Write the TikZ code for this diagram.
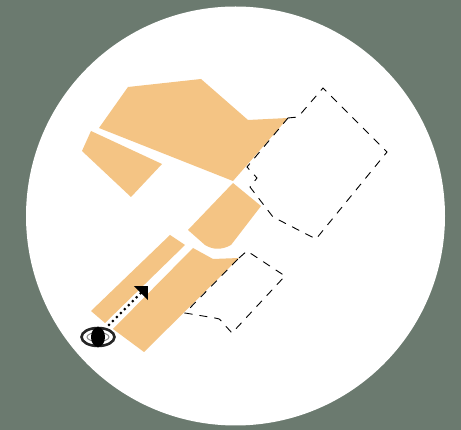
\documentclass[tikz,border=0pt]{standalone}
\usepackage{tikz}
\usetikzlibrary{arrows.meta,shapes.geometric}
\definecolor{slategreen}{HTML}{6B7A6F}
\definecolor{plotorange}{HTML}{F4C484}

\begin{document}
\begin{tikzpicture}[
  x=1pt, y=-1pt,
  plot/.style={fill=plotorange},
  boundary/.style={line width=0.9pt, dash pattern=on 8pt off 7pt},
  eyeouter/.style={ellipse, draw=black!85, line width=2.6pt, fill=white, minimum width=33pt, minimum height=18pt, inner sep=0pt},
  eyeinner/.style={ellipse, draw=black!45, line width=1pt, minimum width=22pt, minimum height=9pt, inner sep=0pt},
  pupil/.style={ellipse, fill=black, minimum width=14pt, minimum height=20pt, inner sep=0pt},
  sightline/.style={line width=3pt, line cap=round, dash pattern=on 0pt off 5.6pt, -{Triangle[width=19pt,length=10pt]}}
]
  % Background
  \useasboundingbox (0,0) rectangle (461,430);
  \fill[slategreen] (0,0) rectangle (461,430);
  \fill[white] (235.5,216) circle [radius=209.5pt];

  % Plots
  \fill[plot] (128,87) -- (201,79) -- (248,120) -- (288,118) -- (233,181) -- (99,128) -- cycle;
  \fill[plot] (91,131) -- (162,164) -- (131,197) -- (82,151) -- cycle;
  \fill[plot] (233,183) -- (261,206) -- (231,245) .. controls (222,250) and (213,250) .. (205,245) -- (188,230) -- cycle;
  \fill[plot] (170,235) -- (185,245) -- (105,323) -- (91,311) -- cycle;
  \fill[plot] (193,248) -- (213,259) -- (239,258) -- (144,352) -- (113,329) -- cycle;

  % Dashed boundaries
  \draw[boundary] (288,118) -- (298,117) -- (323,88) -- (387,152) -- (316,239) -- (273,217)
    -- (250,187) -- (257,178) -- (247,167) -- cycle;
  \draw[boundary] (239,258) -- (247,251) -- (285,276) -- (232,333) -- (222,322)
    .. controls (220,319) and (218,318) .. (215,318) -- (185,313) -- cycle;

  % Viewer
  \node[eyeouter] (eye) at (98,337) {};
  \node[eyeinner] (iris) at (eye) {};
  \node[pupil] (pupilnode) at (eye) {};
  \coordinate (target) at (148,286);
  \draw[sightline] (109,325) -- (target);
\end{tikzpicture}
\end{document}
